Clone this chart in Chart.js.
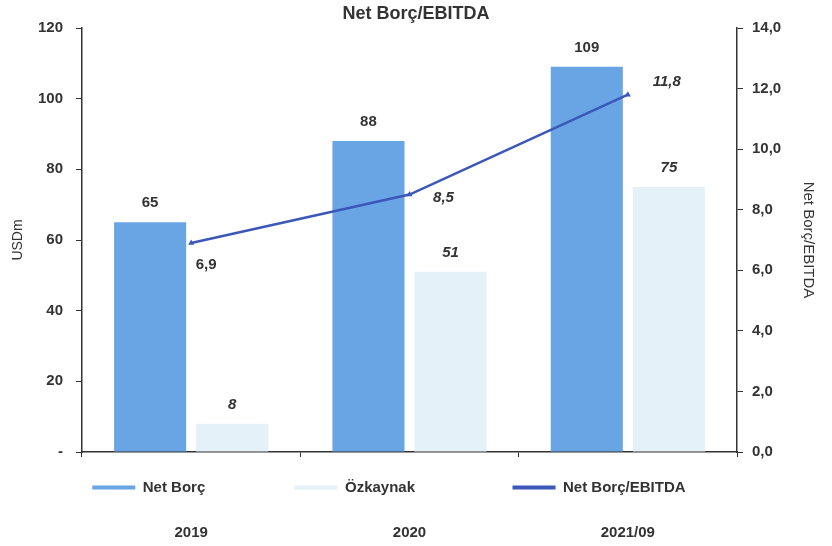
<!DOCTYPE html>
<html lang="tr">

<head>
    <meta charset="UTF-8">
    <meta name="viewport" content="width=device-width, initial-scale=1.0">
    <title>Net Borç/EBITDA</title>
    <style>
        html, body { margin: 0; padding: 0; background: #fff; }
        #wrap { width: 832px; height: 546px; }
    </style>
</head>

<body>
    <div id="wrap"><canvas id="grafica" width="832" height="546"></canvas></div>

    <script src="https://cdn.jsdelivr.net/npm/chart.js@4.4.0/dist/chart.umd.min.js"></script>
    <script>
        // datos
        const years = ['2019', '2020', '2021/09'];
        const netBorc = [65, 88, 109];
        const ozkaynak = [8, 51, 75];
        const netBorcEbitda = [6.9, 8.5, 11.8];
        const leftTicks = [0, 20, 40, 60, 80, 100, 120];
        const rightTicks = [0, 2, 4, 6, 8, 10, 12, 14];

        const FONT = '"Liberation Sans", Arial, sans-serif';
        const TXT = '#333333';
        const coma = v => v.toFixed(1).replace('.', ',');

        // etiquetas de la linea, desplazadas como en el original
        const lineLabelShift = [[15, 22, 'normal'], [34, 3, 'italic'], [39, -13, 'italic']];
        // espacios de relleno en la leyenda
        const legendGap = [19, 21, 13];

        const valueLabels = {
            id: 'valueLabels',
            afterDatasetsDraw(chart) {
                const ctx = chart.ctx;
                ctx.save();
                ctx.fillStyle = TXT;
                ctx.textAlign = 'center';
                ctx.textBaseline = 'middle';
                chart.data.datasets.forEach((ds, i) => {
                    const meta = chart.getDatasetMeta(i);
                    meta.data.forEach((el, j) => {
                        if (ds.type === 'line') {
                            const s = lineLabelShift[j];
                            ctx.font = s[2] + ' bold 15px ' + FONT;
                            ctx.fillText(coma(ds.data[j]), el.x + s[0], el.y + s[1]);
                        } else {
                            ctx.font = (i === 1 ? 'italic ' : '') + 'bold 15px ' + FONT;
                            ctx.fillText(ds.data[j], el.x, el.y - 19);
                        }
                    });
                });
                ctx.restore();
            }
        };

        const ctx = document.getElementById('grafica').getContext('2d');
        const grafica = new Chart(ctx, {
            data: {
                labels: years,
                datasets: [{
                    type: 'bar',
                    label: 'Net Borç',
                    data: netBorc,
                    backgroundColor: '#69a5e4',
                    borderWidth: 0,
                    yAxisID: 'y',
                    categoryPercentage: 0.752,
                    barPercentage: 0.878
                }, {
                    type: 'bar',
                    label: 'Özkaynak',
                    data: ozkaynak,
                    backgroundColor: '#e4f1f9',
                    borderWidth: 0,
                    yAxisID: 'y',
                    categoryPercentage: 0.752,
                    barPercentage: 0.878
                }, {
                    type: 'line',
                    label: 'Net Borç/EBITDA',
                    data: netBorcEbitda,
                    borderColor: '#3b58b8',
                    backgroundColor: '#3b58b8',
                    borderWidth: 2.5,
                    pointStyle: 'triangle',
                    pointRadius: 3.5,
                    pointBorderWidth: 0,
                    tension: 0,
                    yAxisID: 'y1',
                    order: -1
                }]
            },
            options: {
                responsive: false,
                animation: false,
                events: [],
                layout: { padding: 0 },
                plugins: {
                    title: {
                        display: true,
                        text: 'Net Borç/EBITDA',
                        color: TXT,
                        font: { family: FONT, size: 18, weight: 'bold' },
                        padding: { top: 3, bottom: 3.4 }
                    },
                    legend: {
                        position: 'bottom',
                        labels: {
                            color: TXT,
                            font: { family: FONT, size: 15, weight: 'bold' },
                            boxWidth: 43,
                            boxHeight: 4,
                            padding: 10,
                            generateLabels: chart => chart.data.datasets.map((ds, i) => ({
                                text: ds.label + ' '.repeat(legendGap[i]),
                                fillStyle: ds.type === 'line' ? ds.borderColor : ds.backgroundColor,
                                strokeStyle: 'rgba(0,0,0,0)',
                                lineWidth: 0,
                                fontColor: TXT,
                                hidden: false,
                                datasetIndex: i
                            }))
                        }
                    },
                    tooltip: { enabled: false }
                },
                scales: {
                    x: {
                        position: 'bottom',
                        offset: true,
                        grid: { offset: true, drawOnChartArea: false, color: TXT, tickLength: 5 },
                        border: { color: TXT, width: 1.5 },
                        ticks: { display: false },
                        afterFit: s => { s.height = 18; }
                    },
                    x2: {
                        type: 'category',
                        position: 'bottom',
                        labels: years,
                        offset: true,
                        weight: 2000,
                        grid: { display: false, drawTicks: false },
                        border: { display: false },
                        ticks: {
                            color: TXT,
                            padding: 18.5,
                            font: { family: FONT, size: 15, weight: 'bold' }
                        },
                        afterFit: s => { s.height = 41; }
                    },
                    y: {
                        position: 'left',
                        min: 0,
                        max: 120,
                        afterBuildTicks: s => { s.ticks = leftTicks.map(v => ({ value: v })); },
                        grid: { drawOnChartArea: false, color: TXT, tickLength: 6 },
                        border: { color: TXT, width: 1.5 },
                        ticks: {
                            color: TXT,
                            padding: 13,
                            font: { family: FONT, size: 15, weight: 'bold' },
                            callback: v => v === 0 ? '-' : v
                        },
                        title: {
                            display: true,
                            text: 'USDm',
                            color: TXT,
                            font: { family: FONT, size: 14 },
                            padding: { top: 9.6, bottom: 0 }
                        },
                        afterFit: s => { s.width = 82; }
                    },
                    y1: {
                        position: 'right',
                        min: 0,
                        max: 14,
                        afterBuildTicks: s => { s.ticks = rightTicks.map(v => ({ value: v })); },
                        grid: { drawOnChartArea: false, color: TXT, tickLength: 6 },
                        border: { color: TXT, width: 1.5 },
                        ticks: {
                            color: TXT,
                            padding: 9,
                            font: { family: FONT, size: 15, weight: 'bold' },
                            callback: v => coma(v)
                        },
                        title: {
                            display: true,
                            text: 'Net Borç/EBITDA',
                            color: TXT,
                            font: { family: FONT, size: 15 },
                            padding: { top: 15, bottom: 0 }
                        },
                        afterFit: s => { s.width = 95; }
                    }
                }
            },
            plugins: [valueLabels]
        });
    </script>
</body>

</html>
